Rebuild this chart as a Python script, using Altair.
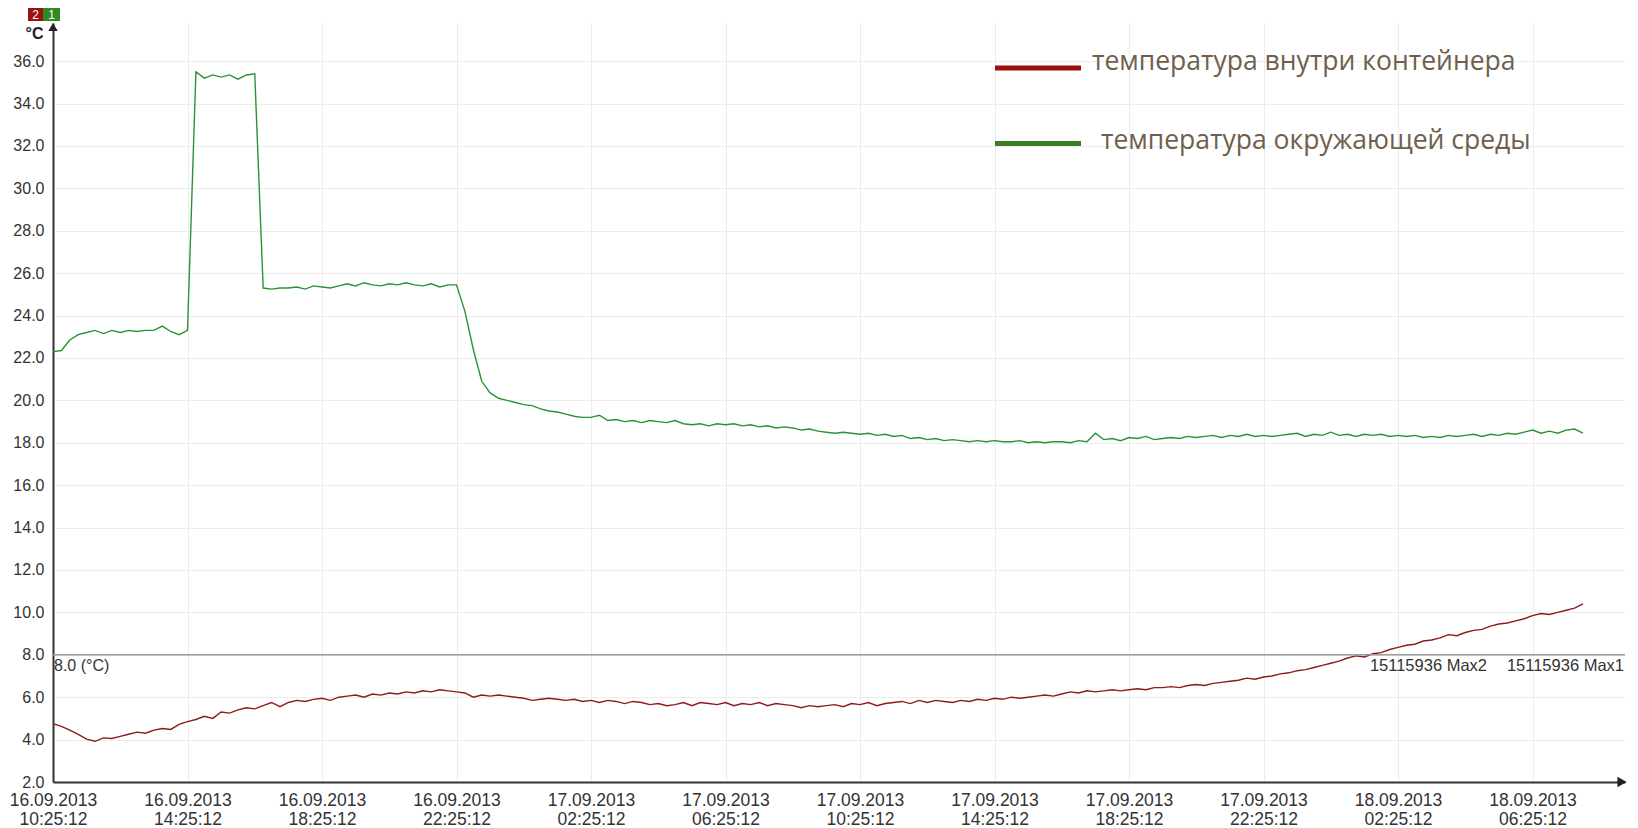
import altair as alt
import pandas as pd

# ---------------- data ----------------
start_time = "2013-09-16 10:25:12"
interval_minutes = 15

series_names = ["температура внутри контейнера", "температура окружающей среды"]
series_colors = ["#8e1b1b", "#2b9234"]

# container temperature, one value per 15 minutes
inside_temp = [
    4.75, 4.62, 4.45, 4.25,
    4.02, 3.92, 4.08, 4.05,
    4.15, 4.25, 4.35, 4.30,
    4.45, 4.52, 4.48, 4.72,
    4.85, 4.95, 5.10, 5.00,
    5.30, 5.25, 5.40, 5.50,
    5.45, 5.60, 5.75, 5.55,
    5.75, 5.85, 5.80, 5.90,
    5.95, 5.85, 6.00, 6.05,
    6.10, 6.00, 6.15, 6.10,
    6.20, 6.15, 6.25, 6.20,
    6.30, 6.25, 6.35, 6.30,
    6.25, 6.20, 6.00, 6.10,
    6.05, 6.10, 6.05, 6.00,
    5.95, 5.85, 5.90, 5.95,
    5.90, 5.85, 5.90, 5.80,
    5.85, 5.75, 5.85, 5.80,
    5.70, 5.80, 5.75, 5.65,
    5.70, 5.60, 5.65, 5.75,
    5.60, 5.75, 5.70, 5.65,
    5.75, 5.60, 5.70, 5.65,
    5.75, 5.60, 5.70, 5.65,
    5.60, 5.50, 5.60, 5.55,
    5.60, 5.65, 5.55, 5.70,
    5.65, 5.75, 5.60, 5.70,
    5.75, 5.80, 5.70, 5.85,
    5.75, 5.85, 5.80, 5.75,
    5.85, 5.80, 5.90, 5.85,
    5.95, 5.90, 6.00, 5.95,
    6.00, 6.05, 6.10, 6.05,
    6.15, 6.25, 6.20, 6.30,
    6.25, 6.30, 6.35, 6.30,
    6.35, 6.40, 6.35, 6.45,
    6.45, 6.50, 6.45, 6.55,
    6.60, 6.55, 6.65, 6.70,
    6.75, 6.80, 6.90, 6.85,
    6.95, 7.00, 7.10, 7.15,
    7.25, 7.30, 7.40, 7.50,
    7.60, 7.70, 7.85, 7.95,
    7.90, 8.05, 8.10, 8.25,
    8.35, 8.45, 8.50, 8.65,
    8.70, 8.80, 8.95, 8.90,
    9.05, 9.15, 9.20, 9.35,
    9.45, 9.50, 9.60, 9.70,
    9.85, 9.95, 9.90, 10.00,
    10.10, 10.20, 10.40,
]

# ambient temperature, one value per 15 minutes
ambient_temp = [
    22.30, 22.35, 22.85, 23.10,
    23.20, 23.30, 23.15, 23.30,
    23.20, 23.30, 23.25, 23.30,
    23.30, 23.50, 23.25, 23.10,
    23.30, 35.50, 35.20, 35.35,
    35.25, 35.35, 35.15, 35.35,
    35.40, 25.30, 25.25, 25.30,
    25.30, 25.35, 25.25, 25.40,
    25.35, 25.30, 25.40, 25.50,
    25.40, 25.55, 25.45, 25.40,
    25.50, 25.45, 25.55, 25.45,
    25.40, 25.50, 25.35, 25.45,
    25.45, 24.20, 22.40, 20.90,
    20.35, 20.10, 20.00, 19.90,
    19.80, 19.75, 19.60, 19.50,
    19.45, 19.35, 19.25, 19.20,
    19.20, 19.30, 19.05, 19.10,
    19.00, 19.05, 18.95, 19.05,
    19.00, 18.95, 19.05, 18.90,
    18.85, 18.90, 18.80, 18.90,
    18.85, 18.90, 18.80, 18.85,
    18.75, 18.80, 18.70, 18.75,
    18.70, 18.60, 18.65, 18.55,
    18.50, 18.45, 18.50, 18.45,
    18.40, 18.45, 18.35, 18.40,
    18.30, 18.35, 18.20, 18.25,
    18.15, 18.20, 18.10, 18.15,
    18.10, 18.05, 18.10, 18.05,
    18.10, 18.05, 18.05, 18.10,
    18.00, 18.05, 18.00, 18.05,
    18.05, 18.00, 18.10, 18.05,
    18.45, 18.15, 18.20, 18.10,
    18.25, 18.20, 18.30, 18.15,
    18.20, 18.25, 18.20, 18.30,
    18.25, 18.30, 18.35, 18.25,
    18.35, 18.30, 18.40, 18.30,
    18.35, 18.30, 18.35, 18.40,
    18.45, 18.30, 18.40, 18.35,
    18.50, 18.35, 18.40, 18.30,
    18.40, 18.35, 18.40, 18.30,
    18.35, 18.30, 18.35, 18.25,
    18.30, 18.25, 18.35, 18.30,
    18.35, 18.40, 18.30, 18.40,
    18.35, 18.45, 18.40, 18.50,
    18.60, 18.45, 18.55, 18.45,
    18.60, 18.65, 18.45,
]

y_ticks = [2, 4, 6, 8, 10, 12, 14, 16, 18, 20, 22, 24, 26, 28, 30, 32, 34, 36]
# tick timestamps (day, hour) every 4 hours from 16.09.2013 10:25:12
x_tick_times = [(16, 10), (16, 14), (16, 18), (16, 22), (17, 2), (17, 6), (17, 10),
                (17, 14), (17, 18), (17, 22), (18, 2), (18, 6)]
threshold_value = 8.0
threshold_label = "8.0 (°C)"
max_labels = ["15115936 Max2", "15115936 Max1"]
channel_badges = ["2", "1"]
unit_label = "°C"

# ---------------- table ----------------
t0 = pd.Timestamp(start_time)
rows = []
for name, vals in zip(series_names, [inside_temp, ambient_temp]):
    for i, v in enumerate(vals):
        t = t0 + pd.Timedelta(minutes=interval_minutes * i)
        rows.append({"time": t.strftime("%Y-%m-%dT%H:%M:%S"), "value": v, "series": name})
df = pd.DataFrame(rows)


def dt(day, h, m=25, s=12):
    return alt.DateTime(year=2013, month=9, date=day, hours=h, minutes=m, seconds=s)


W, H = 1572, 759
x_scale = alt.Scale(domain=[dt(16, 10), dt(18, 9, 10, 12)])
y_scale = alt.Scale(domain=[2, 37.8], nice=False, zero=False)

lines = alt.Chart(df).mark_line(strokeWidth=1.4, interpolate="linear").encode(
    x=alt.X("time:T", scale=x_scale, title=None,
            axis=alt.Axis(values=[dt(d, h) for d, h in x_tick_times],
                          labelExpr="[timeFormat(datum.value, '%d.%m.%Y'), timeFormat(datum.value, '%H:%M:%S')]",
                          grid=True, ticks=False, labelPadding=9, labelFontSize=17.5,
                          labelLineHeight=19.5, labelFlush=False, labelOverlap=False)),
    y=alt.Y("value:Q", scale=y_scale,
            axis=alt.Axis(values=y_ticks, format=".1f", grid=True, ticks=False,
                          labelPadding=9, labelFontSize=16,
                          title=unit_label, titleAngle=0, titleX=-19, titleY=10,
                          titleAlign="center", titleBaseline="middle",
                          titleFontSize=16, titleFontWeight="bold", titleColor="#222")),
    color=alt.Color("series:N", scale=alt.Scale(domain=series_names, range=series_colors), legend=None),
    detail="series:N",
)

one = pd.DataFrame({"k": [0]})

threshold = alt.Chart(one).mark_rule(color="#9a9a9a", strokeWidth=1.6).encode(
    y=alt.Y("v:Q", scale=y_scale), x=alt.value(0), x2=alt.value(W)
).transform_calculate(v=str(threshold_value))

thr_text = alt.Chart(one).mark_text(align="left", baseline="middle", fontSize=16,
                                    font="Liberation Sans", color="#333", dy=11).encode(
    y=alt.Y("v:Q", scale=y_scale), x=alt.value(1), text=alt.value(threshold_label)
).transform_calculate(v=str(threshold_value))

max_df = pd.DataFrame({"label": max_labels, "xr": [1434, 1571]})
max_text = alt.Chart(max_df).mark_text(align="right", baseline="middle", fontSize=16.5,
                                       font="Liberation Sans", color="#333", dy=11).encode(
    y=alt.Y("v:Q", scale=y_scale), x=alt.X("xr:Q", scale=None), text="label:N"
).transform_calculate(v=str(threshold_value))

# legend drawn by hand in the top-right corner
leg_df = pd.DataFrame({"name": series_names, "color": ["#9b0f0f", "#3a7d23"],
                       "ly": [45, 120.5], "ty": [47, 126], "tx": [1039, 1048]})
leg_lines = alt.Chart(leg_df).mark_rule(strokeWidth=5).encode(
    x=alt.value(942), x2=alt.value(1028), y=alt.Y("ly:Q", scale=None),
    color=alt.Color("color:N", scale=None))
leg_text = alt.Chart(leg_df).mark_text(align="left", baseline="alphabetic", fontSize=26.5,
                                       font="Open Sans", color="#6e604c").encode(
    x=alt.X("tx:Q", scale=None), y=alt.Y("ty:Q", scale=None), text="name:N")

# axis arrows
arrow_up = alt.Chart(one).mark_point(shape="triangle-up", filled=True, size=90, color="#222",
                                     opacity=1).encode(x=alt.value(0), y=alt.value(4))
arrow_right = alt.Chart(one).mark_point(shape="triangle-right", filled=True, size=110, color="#222",
                                        opacity=1).encode(x=alt.value(W - 3), y=alt.value(H))

# channel badges
badge_df = pd.DataFrame({"t": channel_badges, "x1": [-25, -10], "x2": [-10, 7],
                         "xc": [-17.5, -1.5], "c": ["#9b1010", "#2f8a22"]})
badges = alt.Chart(badge_df).mark_rect().encode(
    x=alt.X("x1:Q", scale=None), x2="x2:Q", y=alt.value(-15), y2=alt.value(-2),
    color=alt.Color("c:N", scale=None))
badge_text = alt.Chart(badge_df).mark_text(color="white", fontSize=12,
                                           font="Liberation Sans", baseline="middle").encode(
    x=alt.X("xc:Q", scale=None), y=alt.value(-8), text="t:N")

chart = alt.layer(
    lines, threshold, thr_text, max_text, leg_lines, leg_text, arrow_up, arrow_right, badges, badge_text
).properties(
    width=W, height=H,
    autosize=alt.AutoSizeParams(type="none"),
    padding={"left": 45, "top": 15, "right": 5, "bottom": 46},
).configure_view(stroke=None).configure_axis(
    domainColor="#333", domainWidth=2, gridColor="#ececec", gridWidth=1,
    labelFont="Liberation Sans", labelColor="#333", titleFont="Liberation Sans",
)

chart.save("out.html", embed_options={"renderer": "svg", "actions": False})
